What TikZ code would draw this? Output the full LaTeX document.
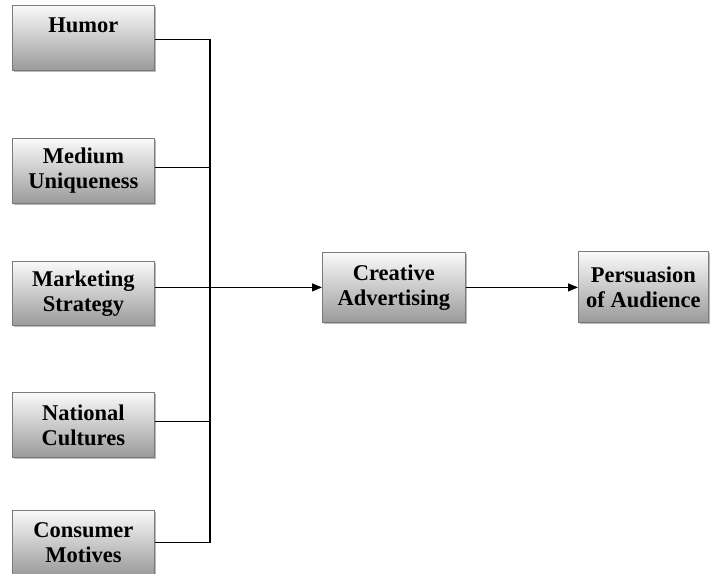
\documentclass[tikz,border=0pt]{standalone}
\usepackage{fontspec}
\setmainfont{Liberation Serif}
\usetikzlibrary{shadows,arrows.meta}
\definecolor{boxtop}{HTML}{FAFAFA}
\definecolor{boxbot}{HTML}{9A9A9A}
\definecolor{boxedge}{HTML}{7A7A7A}
\tikzset{
  factor/.style={draw=boxedge, line width=0.8pt, top color=boxtop, bottom color=boxbot,
    drop shadow={shadow xshift=2pt, shadow yshift=-2pt, fill=black!45, opacity=0.6},
    anchor=north west, align=center, inner sep=0pt,
    font=\fontsize{22.5}{25}\selectfont\bfseries},
  link/.style={line width=1.1pt, draw=black},
  arr/.style={link, -{Triangle[length=10pt,width=8pt]}}
}
\begin{document}
\begin{tikzpicture}[x=1pt,y=-1pt]
\useasboundingbox (0,0) rectangle (711,573);
\node[factor, minimum width=142pt, minimum height=65pt] (humor) at (12,5) {Humor\\\mbox{}};
\node[factor, minimum width=142pt, minimum height=65pt] (med) at (12,138) {Medium\\Uniqueness};
\node[factor, minimum width=142pt, minimum height=64pt] (mark) at (12,261) {Marketing\\Strategy};
\node[factor, minimum width=142pt, minimum height=65pt] (nat) at (12,392) {National\\Cultures};
\node[factor, minimum width=142pt, minimum height=65pt] (cons) at (12,510) {Consumer\\Motives};
\node[factor, minimum width=143pt, minimum height=70pt] (cre) at (322,252) {Creative\\Advertising};
\node[factor, minimum width=130pt, minimum height=71pt] (pers) at (578,251) {Persuasion\\of Audience};
\coordinate (bus) at (210,0);
\draw[link] ([yshift=-1.5pt]humor.east) -| (bus |- cons.east) -- (cons.east);
\draw[link] ([yshift=3pt]med.east) -- ([yshift=3pt]med.east -| bus);
\draw[link] ([yshift=3pt]nat.east) -- ([yshift=3pt]nat.east -| bus);
\draw[arr] (mark.east |- cre.west) -- (cre.west);
\draw[arr] (cre.east) -- (pers.west |- cre.east);
\end{tikzpicture}
\end{document}
